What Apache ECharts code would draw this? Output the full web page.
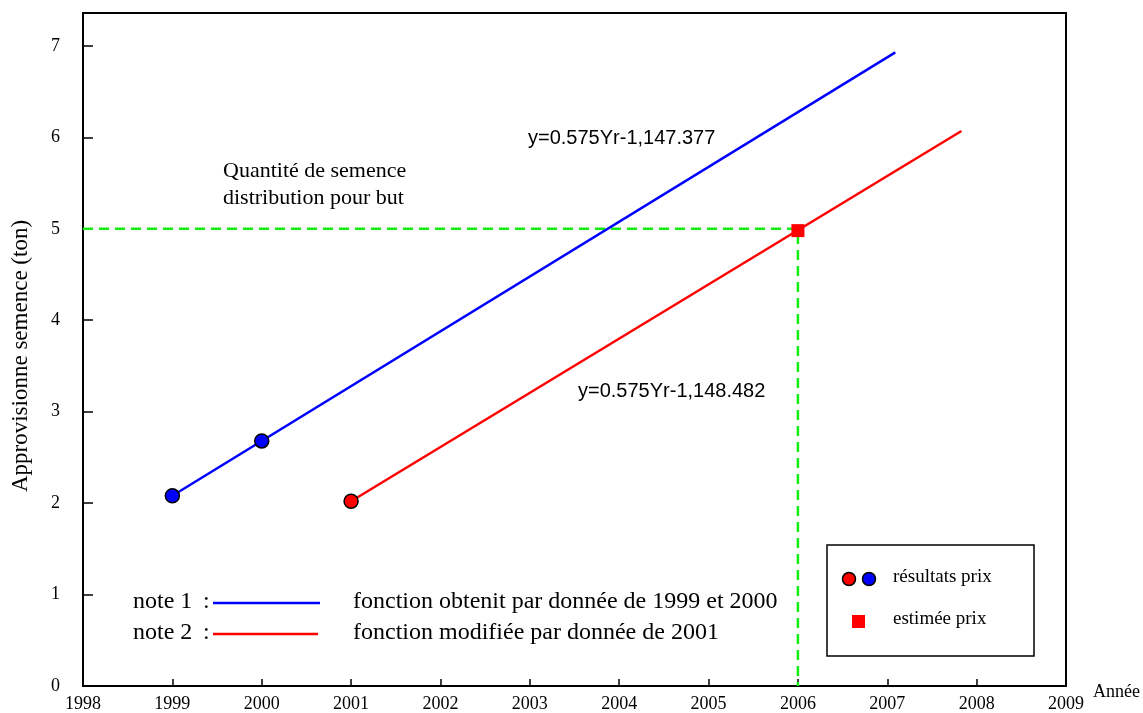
<!DOCTYPE html>
<html>
<head>
<meta charset="utf-8">
<script src="https://cdn.jsdelivr.net/npm/echarts@6/dist/echarts.min.js"></script>
<style>html,body{margin:0;padding:0;background:#fff}#c{width:1143px;height:713px}</style>
</head>
<body>
<div id="c"></div>
<script>
// Data
const blueResults = [[1999, 2.08], [2000, 2.68]];
const redResults = [[2001, 2.02]];
const blueFunction = [[1999, 2.08], [2007.09, 6.93]];
const redFunction = [[2001, 2.02], [2007.83, 6.07]];
const estimate = [[2006, 4.98]];
const targetGuide = [[1998, 5.0], [2006, 5.0], [2006, 0]];
const xTicks = { min: 1998, max: 2009, step: 1 };
const yTicks = { min: 0, max: 7.36, step: 1 };

const serif = '"Liberation Serif", "DejaVu Serif", serif';
const sans = '"Liberation Sans", Arial, sans-serif';

const chart = echarts.init(document.getElementById('c'), null, { renderer: 'canvas' });

const option = {
  animation: false,
  backgroundColor: '#fff',
  grid: { left: 83, right: 77, top: 13, bottom: 27, containLabel: false, outerBoundsMode: 'none',
          show: true, borderColor: '#000', borderWidth: 2, backgroundColor: 'transparent' },
  xAxis: {
    type: 'value', min: xTicks.min, max: xTicks.max, interval: xTicks.step,
    axisLine: { show: true, onZero: false, lineStyle: { color: '#000', width: 2 } },
    axisTick: { show: true, inside: true, length: 7, lineStyle: { color: '#000', width: 1.5 } },
    splitLine: { show: false },
    axisLabel: { color: '#000', fontFamily: serif, fontSize: 18, margin: 9, formatter: v => String(v) }
  },
  yAxis: {
    type: 'value', min: yTicks.min, max: yTicks.max, interval: yTicks.step,
    axisLine: { show: true, lineStyle: { color: '#000', width: 2 } },
    axisTick: { show: true, inside: true, length: 10, lineStyle: { color: '#000', width: 1.5 } },
    splitLine: { show: false },
    axisLabel: { color: '#000', fontFamily: serif, fontSize: 18, margin: 23, showMaxLabel: false }
  },
  series: [
    { type: 'line', data: targetGuide, showSymbol: false, symbol: 'none',
      lineStyle: { color: '#11ee11', width: 2.5, type: [10, 6] }, z: 1 },
    { type: 'line', data: blueFunction, showSymbol: false, symbol: 'none',
      lineStyle: { color: '#0000ff', width: 2.5 }, z: 2 },
    { type: 'line', data: redFunction, showSymbol: false, symbol: 'none',
      lineStyle: { color: '#ff0000', width: 2.5 }, z: 2 },
    { type: 'scatter', data: blueResults, symbol: 'circle', symbolSize: 14,
      itemStyle: { color: '#0000ff', borderColor: '#000', borderWidth: 1.5, opacity: 1 }, z: 5 },
    { type: 'scatter', data: redResults, symbol: 'circle', symbolSize: 14,
      itemStyle: { color: '#ff0000', borderColor: '#000', borderWidth: 1.5, opacity: 1 }, z: 5 },
    { type: 'scatter', data: estimate, symbol: 'rect', symbolSize: 13,
      itemStyle: { color: '#ff0000', opacity: 1 }, z: 5 }
  ],
  graphic: [
    { type: 'text', x: 21, y: 356, rotation: Math.PI / 2,
      style: { text: 'Approvisionne semence (ton)', font: '23px ' + serif, fill: '#000', align: 'center', verticalAlign: 'middle' } },
    { type: 'text', left: 528, top: 128, style: { text: 'y=0.575Yr-1,147.377', font: '20px ' + sans, fill: '#000' } },
    { type: 'text', left: 578, top: 381, style: { text: 'y=0.575Yr-1,148.482', font: '20px ' + sans, fill: '#000' } },
    { type: 'text', left: 223, top: 158, style: { text: 'Quantité de semence\ndistribution pour but', font: '22px ' + serif, lineHeight: 27, fill: '#000' } },
    { type: 'text', left: 133, top: 590, style: { text: 'note 1', font: '24px ' + serif, fill: '#000' } },
    { type: 'text', left: 133, top: 621, style: { text: 'note 2', font: '24px ' + serif, fill: '#000' } },
    { type: 'text', left: 203, top: 590, style: { text: ':', font: '24px ' + serif, fill: '#000' } },
    { type: 'text', left: 203, top: 621, style: { text: ':', font: '24px ' + serif, fill: '#000' } },
    { type: 'line', shape: { x1: 213, y1: 603, x2: 320, y2: 603 }, style: { stroke: '#0000ff', lineWidth: 2.5 } },
    { type: 'line', shape: { x1: 213, y1: 634, x2: 318, y2: 634 }, style: { stroke: '#ff0000', lineWidth: 2.5 } },
    { type: 'text', left: 353, top: 590, style: { text: 'fonction obtenit par donnée de 1999 et 2000', font: '24px ' + serif, fill: '#000' } },
    { type: 'text', left: 353, top: 621, style: { text: 'fonction modifiée par donnée de 2001', font: '24px ' + serif, fill: '#000' } },
    { type: 'rect', shape: { x: 827, y: 545, width: 207, height: 111 }, style: { fill: '#fff', stroke: '#000', lineWidth: 1.5 }, z: 10 },
    { type: 'circle', shape: { cx: 849, cy: 579, r: 6.5 }, style: { fill: '#ff0000', stroke: '#000', lineWidth: 1.5 }, z: 11 },
    { type: 'circle', shape: { cx: 869, cy: 579, r: 6.5 }, style: { fill: '#0000ff', stroke: '#000', lineWidth: 1.5 }, z: 11 },
    { type: 'rect', shape: { x: 852, y: 615, width: 13, height: 13 }, style: { fill: '#ff0000' }, z: 11 },
    { type: 'text', left: 893, top: 568, style: { text: 'résultats prix', font: '19px ' + serif, fill: '#000' }, z: 11 },
    { type: 'text', left: 893, top: 610, style: { text: 'estimée prix', font: '19px ' + serif, fill: '#000' }, z: 11 },
    { type: 'text', left: 1093, top: 683, style: { text: 'Année', font: '18px ' + serif, fill: '#000' } }
  ]
};
chart.setOption(option);
</script>
</body>
</html>
